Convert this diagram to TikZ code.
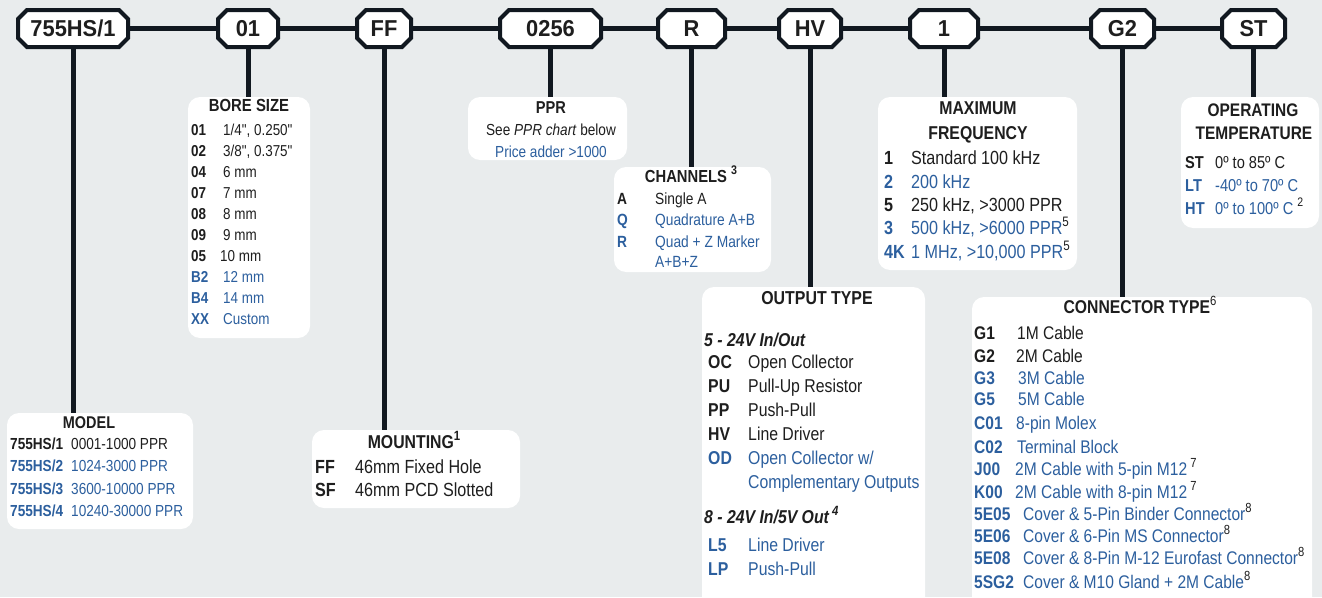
\documentclass[tikz,border=0pt]{standalone}
\usepackage{fontspec}
\setmainfont[FakeStretch=0.85]{Liberation Sans}
\newfontfamily\topfont[FakeStretch=0.95]{Liberation Sans}
\definecolor{bg}{HTML}{E9ECED}
\definecolor{ink}{HTML}{111820}
\definecolor{txt}{HTML}{1E1E1E}
\definecolor{blu}{HTML}{2C5F9E}
\newcommand\sups[1]{\raisebox{0.42em}{\scalebox{0.72}{\textcolor{txt}{#1}}}}
\newcommand\dq{{\addfontfeatures{Ligatures=TeXOff}\char34\relax}}
\newcommand\ent[8]{%
  \node[#1, text=#6] (#2c) at (#3,#5) {\bfseries #7};
  \node[#1, text=#6] (#2v) at (#4,#5) {#8};}
\newcommand\octo[1]{\filldraw[oct] ([xshift=9pt]#1.north west) -- ([xshift=-9pt]#1.north east) -- ([yshift=-9pt]#1.north east) -- ([yshift=9pt]#1.south east) -- ([xshift=-9pt]#1.south east) -- ([xshift=9pt]#1.south west) -- ([yshift=9pt]#1.south west) -- ([yshift=-9pt]#1.north west) -- cycle;}
\tikzset{
  oct/.style={fill=white, draw=ink, line width=4pt, line join=miter},
  topn/.style={minimum height=37pt, inner sep=0pt, outer sep=0pt},
  topl/.style={font=\topfont\fontsize{23}{26}\selectfont\bfseries, text=txt, inner sep=0pt, text height=16.4pt, text depth=0pt},
  conn/.style={draw=ink, line width=5pt},
  ibox/.style={fill=white, rounded corners=12pt, anchor=north west, inner sep=0pt, outer sep=0pt},
  base/.style={anchor=west, inner sep=0pt, text depth=0pt},
  ttl/.style={anchor=center, inner sep=0pt, text depth=0pt, text=txt},
  mrow/.style={base, font=\fontsize{16}{19}\selectfont, text height=11.5pt},
  mttl/.style={ttl, font=\fontsize{17}{20}\selectfont\bfseries, text height=12.2pt},
  brow/.style={base, font=\fontsize{15.8}{19}\selectfont, text height=11.3pt},
  bttl/.style={ttl, font=\fontsize{17.5}{20}\selectfont\bfseries, text height=12.5pt},
  nrow/.style={base, font=\fontsize{19}{22}\selectfont, text height=13.6pt},
  nttl/.style={ttl, font=\fontsize{18.6}{22}\selectfont\bfseries, text height=13.3pt},
  pctr/.style={ttl, font=\fontsize{16}{19}\selectfont, text height=11.5pt},
  pttl/.style={ttl, font=\fontsize{17.2}{20}\selectfont\bfseries, text height=12.3pt},
  crow/.style={base, font=\fontsize{16.2}{19}\selectfont, text height=11.6pt},
  cttl/.style={ttl, font=\fontsize{17.4}{20}\selectfont\bfseries, text height=12.5pt},
  frow/.style={base, font=\fontsize{19}{22}\selectfont, text height=13.6pt},
  fttl/.style={ttl, font=\fontsize{18.6}{22}\selectfont\bfseries, text height=13.3pt},
  trow/.style={base, font=\fontsize{17.2}{20}\selectfont, text height=12.3pt},
  tttl/.style={ttl, font=\fontsize{18.2}{21}\selectfont\bfseries, text height=13pt},
  orow/.style={base, font=\fontsize{18.6}{22}\selectfont, text height=13.3pt},
  ohd/.style={base, text=txt, font=\fontsize{18.6}{22}\selectfont\bfseries\itshape, text height=13.3pt},
  ottl/.style={ttl, font=\fontsize{18.7}{22}\selectfont\bfseries, text height=13.4pt},
  krow/.style={base, font=\fontsize{18.3}{22}\selectfont, text height=13.1pt},
  kttl/.style={ttl, font=\fontsize{18.5}{22}\selectfont\bfseries, text height=13.2pt},
}
\begin{document}
\begin{tikzpicture}[x=1pt,y=-1pt]
\fill[bg] (0,0) rectangle (1322,597);
\useasboundingbox (0,0) rectangle (1322,597);
\clip (0,0) rectangle (1322,597);

% info boxes
\node[ibox, minimum width=186pt, minimum height=116pt] (modelbox) at (7,413) {};
\node[ibox, minimum width=122pt, minimum height=241pt] (borebox) at (188,97) {};
\node[ibox, minimum width=208pt, minimum height=78pt] (mountbox) at (312,430) {};
\node[ibox, minimum width=159pt, minimum height=63pt] (pprbox) at (468,97) {};
\node[ibox, minimum width=157pt, minimum height=105pt] (chanbox) at (614,167) {};
\node[ibox, minimum width=223pt, minimum height=330pt] (outbox) at (702,287) {};
\node[ibox, minimum width=199pt, minimum height=173pt] (freqbox) at (878,97) {};
\node[ibox, minimum width=340pt, minimum height=320pt] (connbox) at (972,297) {};
\node[ibox, minimum width=138pt, minimum height=131pt] (tempbox) at (1181,97) {};

% top code boxes (geometry)
\node[topn, minimum width=110pt] (t1) at (73,28.5) {};
\node[topn, minimum width=60pt] (t2) at (248,28.5) {};
\node[topn, minimum width=54pt] (t3) at (384,28.5) {};
\node[topn, minimum width=101pt] (t4) at (550.5,28.5) {};
\node[topn, minimum width=67pt] (t5) at (691.5,28.5) {};
\node[topn, minimum width=62pt] (t6) at (810,28.5) {};
\node[topn, minimum width=68pt] (t7) at (944,28.5) {};
\node[topn, minimum width=63pt] (t8) at (1122.5,28.5) {};
\node[topn, minimum width=63pt] (t9) at (1253.5,28.5) {};

% connectors
\draw[conn] (t1.east) -- (t2.west);
\draw[conn] (t2.east) -- (t3.west);
\draw[conn] (t3.east) -- (t4.west);
\draw[conn] (t4.east) -- (t5.west);
\draw[conn] (t5.east) -- (t6.west);
\draw[conn] (t6.east) -- (t7.west);
\draw[conn] (t7.east) -- (t8.west);
\draw[conn] (t8.east) -- (t9.west);
\draw[conn] (t1.south) -- (t1.south |- modelbox.north);
\draw[conn] (t2.south) -- (t2.south |- borebox.north);
\draw[conn] (t3.south) -- (t3.south |- mountbox.north);
\draw[conn] (t4.south) -- (t4.south |- pprbox.north);
\draw[conn] (t5.south) -- (t5.south |- chanbox.north);
\draw[conn] (t6.south) -- (t6.south |- outbox.north);
\draw[conn] (t7.south) -- (t7.south |- freqbox.north);
\draw[conn] (t8.south) -- (t8.south |- connbox.north);
\draw[conn] (t9.south) -- (t9.south |- tempbox.north);

% octagons and labels
\octo{t1}\octo{t2}\octo{t3}\octo{t4}\octo{t5}\octo{t6}\octo{t7}\octo{t8}\octo{t9}
\node[topl] (l1) at (t1) {755HS/1};
\node[topl] (l2) at (t2) {01};
\node[topl] (l3) at (t3) {FF};
\node[topl] (l4) at (t4) {0256};
\node[topl] (l5) at (t5) {R};
\node[topl] (l6) at (t6) {HV};
\node[topl] (l7) at (t7) {1};
\node[topl] (l8) at (t8) {G2};
\node[topl] (l9) at (t9) {ST};

% MODEL
\node[mttl] (mt) at (89,422) {MODEL};
\ent{mrow}{m1}{10}{71}{444}{txt}{755HS/1}{0001-1000 PPR}
\ent{mrow}{m2}{10}{71}{466}{blu}{755HS/2}{1024-3000 PPR}
\ent{mrow}{m3}{10}{71}{489}{blu}{755HS/3}{3600-10000 PPR}
\ent{mrow}{m4}{10}{71}{511}{blu}{755HS/4}{10240-30000 PPR}

% BORE SIZE
\node[bttl] (bt) at (249,105) {BORE SIZE};
\ent{brow}{b1}{191}{223}{130}{txt}{01}{1/4\dq, 0.250\dq}
\ent{brow}{b2}{191}{223}{151}{txt}{02}{3/8\dq, 0.375\dq}
\ent{brow}{b3}{191}{223}{172}{txt}{04}{6 mm}
\ent{brow}{b4}{191}{223}{193}{txt}{07}{7 mm}
\ent{brow}{b5}{191}{223}{214}{txt}{08}{8 mm}
\ent{brow}{b6}{191}{223}{235}{txt}{09}{9 mm}
\ent{brow}{b7}{191}{220}{256}{txt}{05}{10 mm}
\ent{brow}{b8}{191}{223}{277}{blu}{B2}{12 mm}
\ent{brow}{b9}{191}{223}{298}{blu}{B4}{14 mm}
\ent{brow}{b10}{191}{223}{319}{blu}{XX}{Custom}

% MOUNTING
\node[nttl] (nt) at (414,442) {MOUNTING\sups{1}};
\ent{nrow}{n1}{315}{355}{467}{txt}{FF}{46mm Fixed Hole}
\ent{nrow}{n2}{315}{355}{490}{txt}{SF}{46mm PCD Slotted}

% PPR
\node[pttl] (pt) at (551,107) {PPR};
\node[pctr, text=txt] (p1) at (551,130) {See \textit{PPR chart} below};
\node[pctr, text=blu] (p2) at (551,152) {Price adder >1000};

% CHANNELS
\node[cttl] (ct) at (691,176) {CHANNELS \sups{3}};
\ent{crow}{c1}{617}{655}{199}{txt}{A}{Single A}
\ent{crow}{c2}{617}{655}{220}{blu}{Q}{Quadrature A+B}
\ent{crow}{c3}{617}{655}{242}{blu}{R}{Quad + Z Marker}
\node[crow, text=blu] (c4v) at (655,262) {A+B+Z};

% MAXIMUM FREQUENCY
\node[fttl] (ft1) at (978,108) {MAXIMUM};
\node[fttl] (ft2) at (978,133) {FREQUENCY};
\ent{frow}{f1}{884}{911}{158}{txt}{1}{Standard 100 kHz}
\ent{frow}{f2}{884}{911}{182}{blu}{2}{200 kHz}
\ent{frow}{f3}{884}{911}{205}{txt}{5}{250 kHz, >3000 PPR}
\ent{frow}{f4}{884}{911}{228}{blu}{3}{500 kHz, >6000 PPR\sups{5}}
\ent{frow}{f5}{884}{911}{252}{blu}{4K}{1 MHz, >10,000 PPR\sups{5}}

% OPERATING TEMPERATURE
\node[tttl] (tt1) at (1253,110) {OPERATING};
\node[tttl] (tt2) at (1254,133) {TEMPERATURE};
\ent{trow}{e1}{1185}{1215}{162}{txt}{ST}{0º to 85º C}
\ent{trow}{e2}{1185}{1215}{185}{blu}{LT}{-40º to 70º C}
\ent{trow}{e3}{1185}{1215}{208}{blu}{HT}{0º to 100º C \sups{2}}

% OUTPUT TYPE
\node[ottl] (ot) at (817,298) {OUTPUT TYPE};
\node[ohd] (oh1) at (704,340) {5 - 24V In/Out};
\ent{orow}{o1}{708}{748}{362}{txt}{OC}{Open Collector}
\ent{orow}{o2}{708}{748}{386}{txt}{PU}{Pull-Up Resistor}
\ent{orow}{o3}{708}{748}{410}{txt}{PP}{Push-Pull}
\ent{orow}{o4}{708}{748}{434}{txt}{HV}{Line Driver}
\ent{orow}{o5}{708}{748}{458}{blu}{OD}{Open Collector w/}
\node[orow, text=blu] (o6v) at (748,482) {Complementary Outputs};
\node[ohd] (oh2) at (704,517) {8 - 24V In/5V Out\,\sups{4}};
\ent{orow}{o7}{708}{748}{545}{blu}{L5}{Line Driver}
\ent{orow}{o8}{708}{748}{569}{blu}{LP}{Push-Pull}

% CONNECTOR TYPE
\node[kttl] (kt) at (1140,307) {CONNECTOR TYPE\sups{\mdseries 6}};
\ent{krow}{k1}{974}{1017}{333}{txt}{G1}{1M Cable}
\ent{krow}{k2}{974}{1016}{356}{txt}{G2}{2M Cable}
\ent{krow}{k3}{974}{1018}{378}{blu}{G3}{3M Cable}
\ent{krow}{k4}{974}{1018}{399}{blu}{G5}{5M Cable}
\ent{krow}{k5}{974}{1016}{423}{blu}{C01}{8-pin Molex}
\ent{krow}{k6}{974}{1017}{447}{blu}{C02}{Terminal Block}
\ent{krow}{k7}{974}{1015}{469}{blu}{J00}{2M Cable with 5-pin M12\,\sups{7}}
\ent{krow}{k8}{974}{1015}{492}{blu}{K00}{2M Cable with 8-pin M12\,\sups{7}}
\ent{krow}{k9}{974}{1023}{514}{blu}{5E05}{Cover \& 5-Pin Binder Connector\sups{8}}
\ent{krow}{k10}{974}{1023}{536}{blu}{5E06}{Cover \& 6-Pin MS Connector\sups{8}}
\ent{krow}{k11}{974}{1023}{558}{blu}{5E08}{Cover \& 8-Pin M-12 Eurofast Connector\sups{8}}
\ent{krow}{k12}{974}{1023}{582}{blu}{5SG2}{Cover \& M10 Gland + 2M Cable\sups{8}}
\end{tikzpicture}
\end{document}
